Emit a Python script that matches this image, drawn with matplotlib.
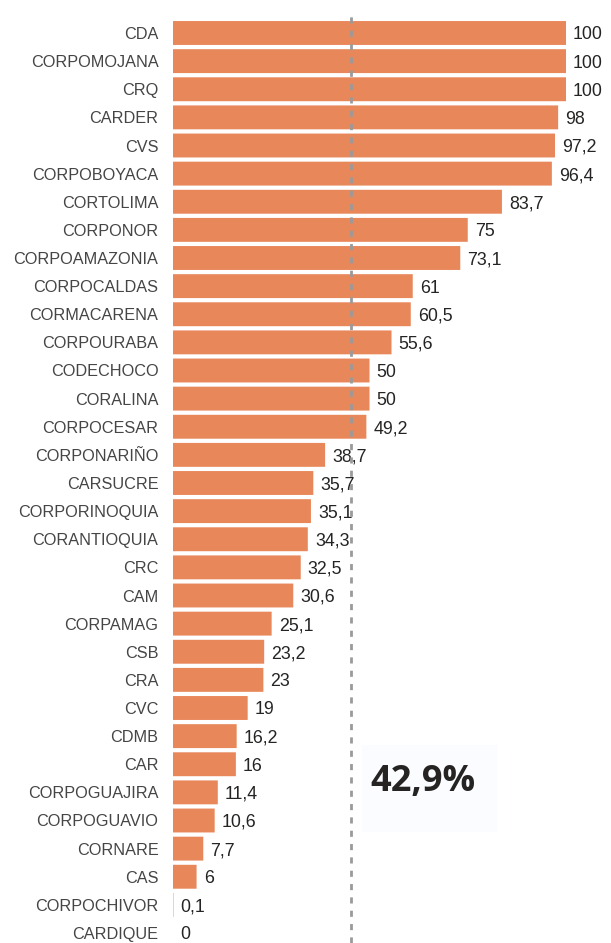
import matplotlib
matplotlib.use("Agg")
import matplotlib.pyplot as plt
from matplotlib.patches import Rectangle
import numpy as np

categories = ["CDA", "CORPOMOJANA", "CRQ", "CARDER", "CVS", "CORPOBOYACA", "CORTOLIMA",
              "CORPONOR", "CORPOAMAZONIA", "CORPOCALDAS", "CORMACARENA", "CORPOURABA",
              "CODECHOCO", "CORALINA", "CORPOCESAR", "CORPONARIÑO", "CARSUCRE",
              "CORPORINOQUIA", "CORANTIOQUIA", "CRC", "CAM", "CORPAMAG", "CSB", "CRA",
              "CVC", "CDMB", "CAR", "CORPOGUAJIRA", "CORPOGUAVIO", "CORNARE", "CAS",
              "CORPOCHIVOR", "CARDIQUE"]
values = [100, 100, 100, 98, 97.2, 96.4, 83.7, 75, 73.1, 61, 60.5, 55.6, 50, 50, 49.2,
          38.7, 35.7, 35.1, 34.3, 32.5, 30.6, 25.1, 23.2, 23, 19, 16.2, 16, 11.4, 10.6,
          7.7, 6, 0.1, 0]
reference_line = 45.3
kpi_text = "42,9%"

W, H = 611, 943
fig = plt.figure(figsize=(W / 100, H / 100), dpi=100)
fig.patch.set_facecolor("white")

# faint card behind the KPI
fig.patches.append(Rectangle((362 / W, 1 - 832 / H), (497 - 362) / W, (832 - 745) / H,
                             transform=fig.transFigure, facecolor="#FBFCFF",
                             edgecolor="none", zorder=0))

x0, x100 = 173, 566
ppu = (x100 - x0) / 100.0
ax = fig.add_axes([x0 / W, 0, 1 - x0 / W, 1 - 10 / H])
ax.patch.set_alpha(0)
ax.set_xlim(0, (W - x0) / ppu)
row_top, row_bot = 33, 933
pr = (row_bot - row_top) / (len(categories) - 1)
ax.set_ylim(len(categories) - 1 + (H - row_bot) / pr, -(row_top - 10) / pr)

y = np.arange(len(categories))
bars = ax.barh(y, values, height=0.85, color="#E8875A", edgecolor="none", zorder=2)
for b in bars:
    b.set_snap(False)
for yi, v in zip(y, values):
    s = f"{v:g}".replace(".", ",")
    ax.text(v + 1.8, yi + 0.07, s, ha="left", va="center", fontsize=12.8,
            color="#252423", family="Liberation Sans", zorder=3)

ax.axvline(reference_line, color="#9a9a9a", lw=2, ls=(0, (2.2, 2.6)), zorder=4)

ax.set_yticks(y)
ax.set_yticklabels(categories, fontsize=11.7, color="#454545", family="Liberation Sans")
ax.tick_params(axis="y", length=0, pad=10.5)
ax.set_xticks([])
for sp in ax.spines.values():
    sp.set_visible(False)

fig.text(423 / W, 1 - 782 / H, kpi_text, ha="center", va="center", fontsize=26,
         fontweight="bold", family="Open Sans", color="#252423")

fig.savefig("out.png", dpi=100, facecolor="white")
